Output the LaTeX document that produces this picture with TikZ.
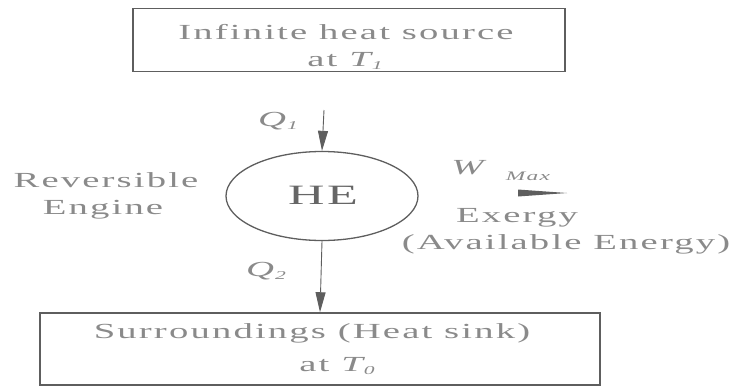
\documentclass[tikz,border=0pt]{standalone}
\usepackage{fontspec}
\setmainfont{Liberation Serif}[FakeStretch=1.8, LetterSpace=10]
\usetikzlibrary{shapes.geometric,arrows.meta,calc}
\definecolor{textgray}{HTML}{8A8A8A}
\definecolor{linegray}{HTML}{5E5E5E}
\begin{document}
\begin{tikzpicture}[x=1pt,y=-1pt,
  lbl/.style={text=textgray, font=\fontsize{21.5}{26}\selectfont, inner sep=0pt},
  boxst/.style={draw=linegray, line width=1.5pt, rectangle, inner sep=0pt},
  arr/.style={draw=linegray, line width=0.9pt, -{Triangle[length=20pt,width=10pt]}, color=linegray}]
\useasboundingbox (0,0) rectangle (751,388);
% boxes
\node[boxst, minimum width=432pt, minimum height=63pt] (src) at (349,40) {};
\node[boxst, minimum width=560pt, minimum height=72pt] (sink) at (320,349) {};
\node[lbl] (srct1) at (346,32) {Infinite heat source};
\node[lbl] (srct2) at (345,61) {at \textit{T\kern1pt\raisebox{-3pt}{\fontsize{12}{12}\selectfont 1}}};
\node[lbl] (sinkt1) at (312,333) {Surroundings (Heat sink)};
\node[lbl] (sinkt2) at (337,366) {at \textit{T\kern1pt\raisebox{-3pt}{\fontsize{12}{12}\selectfont 0}}};
% engine
\node[draw=linegray, line width=1.3pt, ellipse, minimum width=192pt, minimum height=89pt, inner sep=0pt] (he) at (322,196) {};
\node[lbl, font=\fontsize{28}{30}\selectfont, text=gray!80!black] (het) at (323,195) {HE};
\node[lbl] (rev1) at (106,180) {Reversible};
\node[lbl] (rev2) at (103,210) {Engine};
% heat flows
\coordinate (q1top) at (324,110);
\draw[arr] (q1top) -- (he.north);
\draw[arr] (he.south) -- (sink.north);
\node[lbl] (q1) at (278,121) {\textit{Q\kern1pt\raisebox{-3pt}{\fontsize{12}{12}\selectfont 1}}};
\node[lbl] (q2) at (266,271) {\textit{Q\kern1pt\raisebox{-3pt}{\fontsize{12}{12}\selectfont 2}}};
% work
\node[lbl] (w) at (470,168) {\textit{W}};
\node[lbl, font=\fontsize{13}{14}\selectfont\itshape] (wmax) at (528,176) {Max};
\coordinate (wa) at (518,193);
\coordinate (wb) at (567,193);
\fill[linegray] ($(wa)+(0,-3.5)$) -- (wb) -- ($(wa)+(0,3.5)$) -- cycle;
\node[lbl] (ex1) at (517,218) {Exergy};
\node[lbl] (ex2) at (566,244) {(Available Energy)};
\end{tikzpicture}
\end{document}
